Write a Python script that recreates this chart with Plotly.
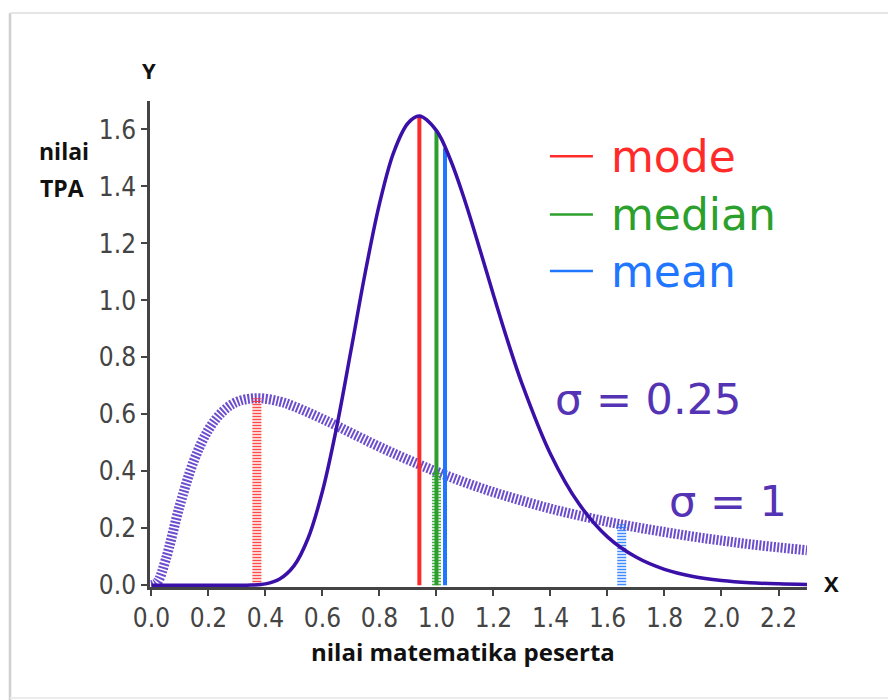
import plotly.graph_objects as go

# ---- data ----
x_narrow = [0.0, 0.30, 0.35, 0.40, 0.45, 0.50, 0.55, 0.60, 0.65, 0.70, 0.75, 0.80, 0.85, 0.90,
            0.94, 1.00, 1.05, 1.10, 1.15, 1.20, 1.25, 1.30, 1.40, 1.50, 1.60, 1.70, 1.80,
            1.90, 2.00, 2.10, 2.20, 2.30]
y_narrow = [0.0, 0.0, 0.001, 0.005, 0.022, 0.068, 0.166, 0.330, 0.556, 0.824, 1.097, 1.339, 1.520, 1.622,
            1.647, 1.596, 1.491, 1.349, 1.187, 1.019, 0.857, 0.708, 0.461, 0.286, 0.170, 0.099, 0.056,
            0.031, 0.017, 0.009, 0.005, 0.003]

x_wide = [0.0, 0.02, 0.05, 0.10, 0.15, 0.20, 0.25, 0.30, 0.37, 0.45, 0.50, 0.60, 0.70, 0.80, 0.90,
          1.00, 1.10, 1.20, 1.30, 1.40, 1.50, 1.60, 1.70, 1.80, 1.90, 2.00, 2.10, 2.20, 2.30]
y_wide = [0.0, 0.010, 0.090, 0.282, 0.440, 0.546, 0.610, 0.644, 0.657, 0.645, 0.628, 0.584, 0.535, 0.486, 0.441,
          0.399, 0.361, 0.327, 0.297, 0.269, 0.245, 0.223, 0.204, 0.187, 0.171, 0.157, 0.144, 0.133, 0.123]

stat_names = ["mode", "median", "mean"]
stat_colors = ["#ff2b2b", "#2ca02c", "#1f77ff"]
narrow_stat_x = [0.94, 1.00, 1.03]
narrow_stat_y = [1.647, 1.596, 1.534]
wide_stat_x = [0.37, 1.00, 1.65]
wide_stat_y = [0.657, 0.399, 0.214]

x_ticks = [0.0, 0.2, 0.4, 0.6, 0.8, 1.0, 1.2, 1.4, 1.6, 1.8, 2.0, 2.2]
y_ticks = [0.0, 0.2, 0.4, 0.6, 0.8, 1.0, 1.2, 1.4, 1.6]
sigma_labels = ["σ = 0.25", "σ = 1"]

# ---- layout geometry ----
W, H = 888, 700
ML, MR, MT, MB = 150, 81, 101, 113
PW, PH = W - ML - MR, H - MT - MB


def px(xp):
    return (xp - ML) / PW


def py(yp):
    return (H - MB - yp) / PH


CURVE = "#3a10a8"
fig = go.Figure()

# wide (sigma = 1) curve: thick hatched line
fig.add_trace(go.Scatter(x=x_wide, y=y_wide, mode="lines", line_shape="spline",
                         line=dict(color="rgba(92,58,200,0.9)", width=10, dash="2px,1.6px"),
                         hoverinfo="skip", showlegend=False))

# solid stats lines (sigma = 0.25)
for name, c, sx, sy in zip(stat_names, stat_colors, narrow_stat_x, narrow_stat_y):
    fig.add_trace(go.Scatter(x=[sx, sx], y=[0, sy], mode="lines",
                             line=dict(color=c, width=4), showlegend=False, hoverinfo="skip"))

# hatched stats lines (sigma = 1)
for name, c, sx, sy in zip(stat_names, stat_colors, wide_stat_x, wide_stat_y):
    fig.add_trace(go.Scatter(x=[sx, sx], y=[0, sy], mode="lines", opacity=0.85,
                             line=dict(color=c, width=9, dash="1.6px,1.4px"),
                             showlegend=False, hoverinfo="skip"))

# narrow (sigma = 0.25) curve
fig.add_trace(go.Scatter(x=x_narrow, y=y_narrow, mode="lines", line_shape="spline",
                         line=dict(color=CURVE, width=3.5), hoverinfo="skip", showlegend=False))

TICKFONT = dict(family="DejaVu Sans Condensed, DejaVu Sans", size=26, color="#444444")
AX = dict(showgrid=False, zeroline=False, showline=True, linecolor="#444444", linewidth=2.5,
          ticks="outside", ticklen=6, tickwidth=2, tickcolor="#444444", tickfont=TICKFONT)

fig.update_xaxes(range=[-0.005, 2.3], tickvals=x_ticks, ticktext=[f"{v:.1f}" for v in x_ticks], **AX)
fig.update_yaxes(range=[-0.006, 1.7], tickvals=y_ticks, ticktext=[f"{v:.1f}" for v in y_ticks], **AX)

shapes = []
annotations = []

# legend-like entries
leg_y = [1.506, 1.302, 1.103]
for name, c, ly in zip(stat_names, stat_colors, leg_y):
    shapes.append(dict(type="line", xref="x", yref="y", x0=1.398, x1=1.549, y0=ly, y1=ly,
                       line=dict(color=c, width=2.5)))
    annotations.append(dict(x=1.605, y=ly, xref="x", yref="y", text=name, showarrow=False,
                            xanchor="left", yanchor="middle",
                            font=dict(family="DejaVu Sans", size=44, color=c)))

# sigma labels
annotations.append(dict(x=1.409, y=0.655, xref="x", yref="y", text=sigma_labels[0], showarrow=False,
                        xanchor="left", yanchor="middle",
                        font=dict(family="DejaVu Sans", size=43, color="#5533b5")))
annotations.append(dict(x=1.808, y=0.295, xref="x", yref="y", text=sigma_labels[1], showarrow=False,
                        xanchor="left", yanchor="middle",
                        font=dict(family="DejaVu Sans", size=43, color="#5533b5")))

LBL = "Open Sans"
annotations += [
    dict(x=px(149), y=py(70), xref="paper", yref="paper", text="<b>Y</b>", showarrow=False,
         xanchor="center", yanchor="middle", font=dict(family=LBL, size=22, color="#111111")),
    dict(x=px(64), y=py(151), xref="paper", yref="paper", text="<b>nilai</b>", showarrow=False,
         xanchor="center", yanchor="middle", font=dict(family=LBL, size=23, color="#111111")),
    dict(x=px(62), y=py(188), xref="paper", yref="paper", text="<b>TPA</b>", showarrow=False,
         xanchor="center", yanchor="middle", font=dict(family=LBL, size=23, color="#111111")),
    dict(x=px(831), y=py(583), xref="paper", yref="paper", text="<b>X</b>", showarrow=False,
         xanchor="center", yanchor="middle", font=dict(family=LBL, size=22, color="#111111")),
    dict(x=px(463), y=py(651), xref="paper", yref="paper", text="<b>nilai matematika peserta</b>",
         showarrow=False, xanchor="center", yanchor="middle",
         font=dict(family=LBL, size=24, color="#111111")),
]

# screenshot frame edges
shapes += [
    dict(type="line", xref="paper", yref="paper", x0=px(10), x1=px(10), y0=py(13), y1=py(700),
         line=dict(color="#cfcfcf", width=2.5), layer="below"),
    dict(type="line", xref="paper", yref="paper", x0=px(10), x1=px(888), y0=py(13), y1=py(13),
         line=dict(color="#e6e6e6", width=2), layer="below"),
    dict(type="line", xref="paper", yref="paper", x0=px(10), x1=px(888), y0=py(698), y1=py(698),
         line=dict(color="#ececec", width=2), layer="below"),
]

fig.update_layout(width=W, height=H, margin=dict(l=ML, r=MR, t=MT, b=MB),
                  plot_bgcolor="white", paper_bgcolor="white",
                  shapes=shapes, annotations=annotations, showlegend=False)

fig.write_html("out.html")
